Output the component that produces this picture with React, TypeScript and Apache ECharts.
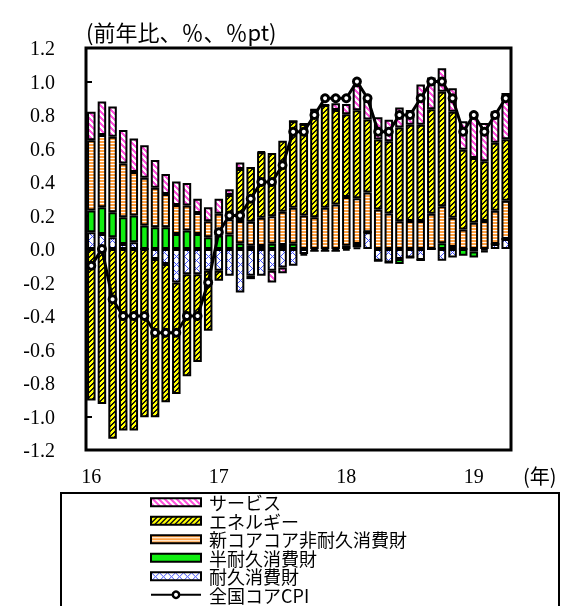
import React, { useEffect, useRef } from 'react';
import * as echarts from 'echarts';

// Monthly categories, Jan 2016 – Apr 2019
const categories = [
  '2016/01', '2016/02', '2016/03', '2016/04', '2016/05', '2016/06', '2016/07', '2016/08', '2016/09', '2016/10', '2016/11', '2016/12',
  '2017/01', '2017/02', '2017/03', '2017/04', '2017/05', '2017/06', '2017/07', '2017/08', '2017/09', '2017/10', '2017/11', '2017/12',
  '2018/01', '2018/02', '2018/03', '2018/04', '2018/05', '2018/06', '2018/07', '2018/08', '2018/09', '2018/10', '2018/11', '2018/12',
  '2019/01', '2019/02', '2019/03', '2019/04',
];
const yearTickLabels = ['16', '17', '18', '19'];

// 耐久消費財
const durable = [
  0.10, 0.09, 0.07, 0.03, 0.04, 0.00, -0.06, -0.09, -0.20, -0.15, -0.15, -0.13,
  -0.13, -0.16, -0.26, -0.16, -0.16, -0.13, -0.11, -0.10, -0.03, -0.01, -0.01, -0.01,
  -0.01, 0.01, 0.10, -0.07, -0.08, -0.06, -0.05, -0.065, 0.00, -0.07, -0.05, 0.00,
  -0.015, -0.01, 0.03, 0.06,
];
// 半耐久消費財
const semiDurable = [
  0.13, 0.16, 0.15, 0.16, 0.16, 0.14, 0.13, 0.13, 0.09, 0.11, 0.09, 0.07,
  0.08, 0.087, 0.034, 0.02, 0.018, 0.032, 0.024, 0.032, -0.01, 0, 0, 0,
  0.02, 0.02, 0, 0, 0, -0.03, 0, 0, 0, 0.035, 0.012, -0.04,
  -0.035, -0.01, 0, 0,
];
// 新コアコア非耐久消費財
const coreCoreNonDurable = [
  0.42, 0.43, 0.45, 0.32, 0.26, 0.285, 0.236, 0.198, 0.173, 0.149, 0.125, 0.095,
  0.13, 0.09, 0.133, 0.143, 0.169, 0.164, 0.198, 0.214, 0.20, 0.19, 0.246, 0.266,
  0.29, 0.273, 0.238, 0.236, 0.212, 0.165, 0.167, 0.167, 0.21, 0.22, 0.175, 0.117,
  0.157, 0.167, 0.198, 0.228,
];
// エネルギー
const energy = [
  -0.905, -0.925, -1.133, -1.083, -1.083, -1.004, -0.944, -0.825, -0.665, -0.61, -0.525, -0.358,
  -0.06, 0.145, 0.31, 0.327, 0.39, 0.377, 0.425, 0.516, 0.546, 0.641, 0.614, 0.564,
  0.495, 0.525, 0.435, 0.417, 0.431, 0.56, 0.575, 0.575, 0.624, 0.684, 0.633, 0.476,
  0.386, 0.357, 0.407, 0.367,
];
// サービス
const services = [
  0.17, 0.20, 0.18, 0.20, 0.20, 0.195, 0.165, 0.12, 0.14, 0.135, 0.085, 0.085,
  0.09, 0.035, 0.04, -0.02, 0.005, -0.07, -0.035, 0, 0, 0, 0, 0.04,
  0.06, 0.15, 0.11, 0.133, 0.129, 0.12, 0.088, 0.24, 0.19, 0.14, 0.14, 0.17,
  0.267, 0.228, 0.187, 0.277,
];
// 全国コアCPI
const coreCPI = [
  -0.1, 0.0, -0.3, -0.4, -0.4, -0.4, -0.5, -0.5, -0.5, -0.4, -0.4, -0.2,
  0.1, 0.2, 0.2, 0.3, 0.4, 0.4, 0.5, 0.7, 0.7, 0.8, 0.9, 0.9,
  0.9, 1.0, 0.9, 0.7, 0.7, 0.8, 0.8, 0.9, 1.0, 1.0, 0.9, 0.7,
  0.8, 0.7, 0.8, 0.9,
];

const CJK = '"Noto Sans CJK JP", "Noto Sans", sans-serif';
const NUM = '"Liberation Serif", "DejaVu Serif", serif';

function makePattern(w: number, h: number, bg: string, painter: (x: number, y: number) => string | null) {
  const c = document.createElement('canvas');
  c.width = w;
  c.height = h;
  const ctx = c.getContext('2d')!;
  ctx.fillStyle = bg;
  ctx.fillRect(0, 0, w, h);
  for (let y = 0; y < h; y++) {
    for (let x = 0; x < w; x++) {
      const col = painter(x, y);
      if (col) {
        ctx.fillStyle = col;
        ctx.fillRect(x, y, 1, 1);
      }
    }
  }
  return { image: c.toDataURL(), repeat: 'repeat', imageWidth: w, imageHeight: h } as any;
}

export default function App() {
  const ref = useRef<HTMLDivElement>(null);

  useEffect(() => {
    if (!ref.current) return;
    const chart = echarts.init(ref.current, undefined, { renderer: 'svg' });

    const servicePat = makePattern(6, 6, '#ffffff', (x, y) => (((x - y) % 6 + 6) % 6 < 3 ? '#ff55dd' : null));
    const energyPat = makePattern(5, 5, '#ffff00', (x, y) => ((x + y) % 5 < 2 ? '#111111' : null));
    const corePat = makePattern(4, 3, '#ffa040', (x, y) => (y === 2 ? '#ffffff' : null));
    const semiColor = '#11ee11';
    const durablePat = makePattern(8, 8, '#ffffff', (x, y) =>
      ((x + y) % 8 === 0 || ((x - y) % 8 + 8) % 8 === 0 ? '#4050ff' : null));

    const bar = (name: string, data: number[], color: any) => ({
      name,
      type: 'bar',
      stack: 'total',
      data,
      barWidth: 8.5,
      itemStyle: { color, borderColor: '#000', borderWidth: 2 },
      emphasis: { disabled: true },
    });

    const legendBar = (name: string) => ({
      name,
      icon: 'rect',
      itemStyle: { borderColor: '#000', borderWidth: 2 },
    });

    chart.setOption({
      animation: false,
      textStyle: { fontFamily: CJK, color: '#000' },
      grid: {
        left: 86, right: 52, top: 48, bottom: 156,
        show: true, borderColor: '#000', borderWidth: 3, backgroundColor: 'transparent',
      },
      xAxis: {
        type: 'category',
        data: categories,
        axisLine: { show: false },
        axisTick: { show: false },
        axisLabel: {
          interval: (i: number) => i % 12 === 0,
          formatter: (v: string) => {
            const i = categories.indexOf(v);
            return i % 12 === 0 ? yearTickLabels[i / 12] : '';
          },
          margin: 16,
          fontFamily: NUM,
          fontSize: 20,
          color: '#000',
        },
      },
      yAxis: {
        type: 'value',
        min: -1.2,
        max: 1.2,
        interval: 0.2,
        splitLine: { show: false },
        axisLine: { show: false },
        axisTick: { show: true, inside: true, length: 6, lineStyle: { color: '#000', width: 2 } },
        axisLabel: {
          formatter: (v: number) => v.toFixed(1),
          margin: 31,
          fontFamily: NUM,
          fontSize: 20,
          color: '#000',
        },
      },
      legend: {
        orient: 'vertical',
        left: 150,
        top: 493,
        height: 130,
        padding: 0,
        itemGap: 0,
        itemWidth: 50,
        itemHeight: 8,
        selectedMode: false,
        textStyle: { fontFamily: CJK, fontSize: 18, lineHeight: 18.5, color: '#000', padding: [0, 0, 0, 3] },
        data: [
          legendBar('サービス'),
          legendBar('エネルギー'),
          legendBar('新コアコア非耐久消費財'),
          legendBar('半耐久消費財'),
          legendBar('耐久消費財'),
          { name: '全国コアCPI', itemStyle: { color: '#fff', borderColor: '#000', borderWidth: 2.5 } },
        ],
      },
      graphic: [
        {
          type: 'text', left: 86, top: 20,
          style: { text: '(前年比、％、％pt)', fontFamily: CJK, fontSize: 22, fill: '#000' },
        },
        {
          type: 'text', left: 523, top: 465,
          style: { text: '(年)', fontFamily: CJK, fontSize: 20, fill: '#000' },
        },
        {
          type: 'rect', shape: { x: 61, y: 493, width: 498, height: 200 },
          style: { fill: 'none', stroke: '#000', lineWidth: 2 }, silent: true,
        },
      ],
      series: [
        bar('耐久消費財', durable, durablePat),
        bar('半耐久消費財', semiDurable, semiColor),
        bar('新コアコア非耐久消費財', coreCoreNonDurable, corePat),
        bar('エネルギー', energy, energyPat),
        bar('サービス', services, servicePat),
        {
          name: '全国コアCPI',
          type: 'line',
          data: coreCPI,
          symbol: 'circle',
          symbolSize: 7,
          z: 10,
          lineStyle: { color: '#000', width: 3 },
          itemStyle: { color: '#fff', borderColor: '#000', borderWidth: 3 },
          emphasis: { disabled: true },
        },
      ],
    });

    return () => chart.dispose();
  }, []);

  return <div ref={ref} style={{ position: 'fixed', left: 0, top: 0, width: 563, height: 606 }} />;
}
